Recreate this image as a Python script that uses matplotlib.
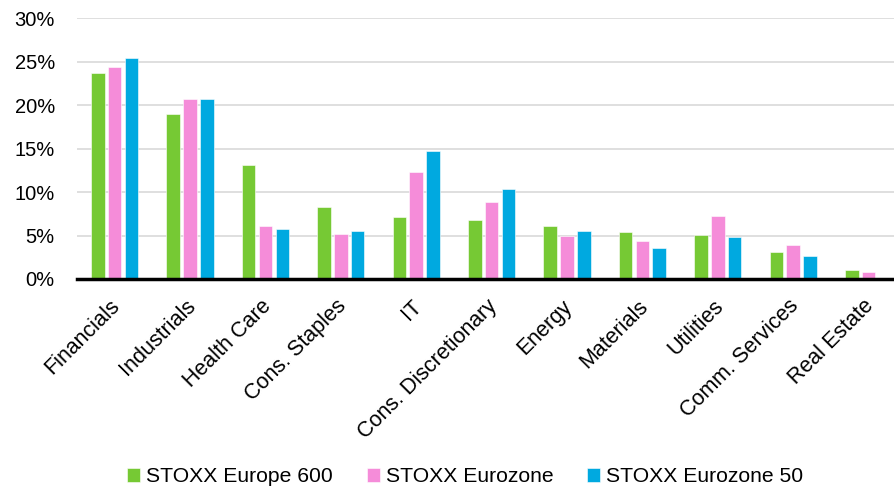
import matplotlib.pyplot as plt
import numpy as np

plt.rcParams['font.family'] = ['Liberation Sans', 'DejaVu Sans']

sectors = ['Financials', 'Industrials', 'Health Care', 'Cons. Staples', 'IT',
           'Cons. Discretionary', 'Energy', 'Materials', 'Utilities',
           'Comm. Services', 'Real Estate']

europe_600 = [23.7, 19.0, 13.1, 8.3, 7.1, 6.8, 6.1, 5.4, 5.1, 3.1, 1.0]
eurozone = [24.4, 20.7, 6.1, 5.2, 12.3, 8.9, 5.0, 4.4, 7.2, 3.9, 0.8]
eurozone_50 = [25.4, 20.7, 5.7, 5.5, 14.7, 10.3, 5.5, 3.6, 4.8, 2.7, 0.0]

series = [
    ('STOXX Europe 600', europe_600, '#76c934'),
    ('STOXX Eurozone', eurozone, '#f58cd9'),
    ('STOXX Eurozone 50', eurozone_50, '#00a9e0'),
]

fig = plt.figure(figsize=(8.95, 4.86), dpi=100)
ax = fig.add_axes([77 / 895, 1 - 279 / 486, 818 / 895, 261 / 486])

x = np.arange(len(sectors))
width = 0.18
pitch = 0.223
for i, (name, vals, color) in enumerate(series):
    ax.bar(x + (i - 1) * pitch, vals, width, color=color, label=name,
           edgecolor='white', linewidth=0.4, zorder=3)

ax.set_xlim(-0.5, 10.35)
ax.set_ylim(0, 30)
ax.set_yticks(range(0, 31, 5))
ax.set_yticklabels([f'{v}%' for v in range(0, 31, 5)], fontsize=14.5)
ax.yaxis.grid(True, color='#d9d9d9', linewidth=1.2, zorder=0)
ax.axhline(0, color='black', linewidth=2.5, zorder=4, clip_on=False)

# slanted labels sit a touch left of the group centres
ax.set_xticks(x - 0.07)
ax.set_xticklabels(sectors, rotation=45, ha='right', rotation_mode='anchor',
                   fontsize=15.5)
ax.tick_params(axis='both', length=0)
ax.tick_params(axis='x', pad=12)
ax.tick_params(axis='y', pad=16)
for side in ['top', 'right', 'left', 'bottom']:
    ax.spines[side].set_visible(False)

fig.legend(loc='lower center', bbox_to_anchor=(0.52, -0.04), ncol=3,
           frameon=False, fontsize=15.2, handlelength=0.6, handleheight=0.6,
           handletextpad=0.3, columnspacing=1.6)

fig.savefig('out.png', dpi=100)
